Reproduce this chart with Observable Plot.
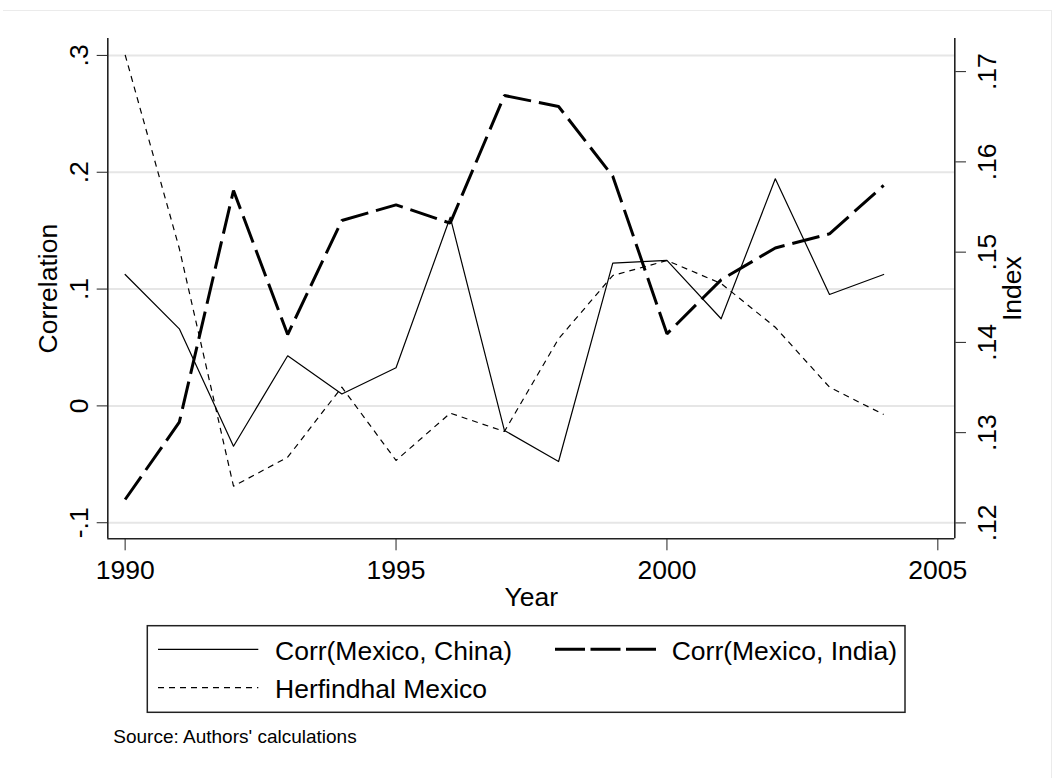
<!DOCTYPE html>
<html><head><meta charset="utf-8">
<script src="https://cdn.jsdelivr.net/npm/d3@7"></script>
<script src="https://cdn.jsdelivr.net/npm/@observablehq/plot@0.6"></script>
<style>
body{margin:0;background:#fff;font-family:"Liberation Sans",Arial,sans-serif;}
#wrap{position:relative;width:1061px;height:778px;overflow:hidden;background:#fff;}
#wrap svg{position:absolute;left:0;top:0;}
#border{position:absolute;left:3px;top:10px;width:1048px;height:800px;border-top:1px solid #ebebeb;border-right:1px solid #ebebeb;}
</style></head>
<body><div id="wrap"><div id="border"></div></div>
<script>
// ---- data ----
const years = [1990,1991,1992,1993,1994,1995,1996,1997,1998,1999,2000,2001,2002,2003,2004];
const corrChina = [0.1125,0.0660,-0.0345,0.0429,0.0102,0.0326,0.1615,-0.0210,-0.0476,0.1222,0.1245,0.0746,0.1944,0.0954,0.1125];
const corrIndia = [-0.0801,-0.0139,0.1844,0.0611,0.1587,0.1721,0.1564,0.2657,0.2563,0.1966,0.0617,0.1079,0.1352,0.1473,0.1887];
const herfMexico = [0.17186,0.15040,0.12407,0.12728,0.13504,0.12692,0.13216,0.13013,0.14040,0.14741,0.14907,0.14653,0.14168,0.13504,0.13201];
const seriesNames = ["Corr(Mexico, China)","Corr(Mexico, India)","Herfindhal Mexico"];
const xTicks = [1990,1995,2000,2005];
const leftTicks = [-0.1,0,0.1,0.2,0.3];
const leftTickLabels = ["-.1","0",".1",".2",".3"];
const rightTicks = [0.12,0.13,0.14,0.15,0.16,0.17];
const rightTickLabels = [".12",".13",".14",".15",".16",".17"];
const xTitle = "Year", yLeftTitle = "Correlation", yRightTitle = "Index";
const sourceNote = "Source: Authors' calculations";

// ---- tables ----
const china = years.map((y,i)=>({year:y, v:corrChina[i]}));
const india = years.map((y,i)=>({year:y, v:corrIndia[i]}));
const herf = years.map((y,i)=>({year:y, v:herfMexico[i]}));

const W = 1061, H = 620;
const FONT = "'Liberation Sans', Arial, sans-serif";
const FS = 26.5;
const xDomain = [1989.680, 2005.313];
const yLeftDomain = [-0.11375, 0.31448];
const yRightDomain = [0.11824, 0.17367];
const AX = "#222";
const common = {
  width: W, height: H,
  marginLeft: 107.3, marginRight: 106.7, marginTop: 38, marginBottom: H - 538.3,
  style: {fontFamily: FONT, fontSize: FS + "px", color: "#000", background: "transparent", overflow: "visible"}
};
const lMap = new Map(leftTicks.map((t,i)=>[t,leftTickLabels[i]]));
const rMap = new Map(rightTicks.map((t,i)=>[t,rightTickLabels[i]]));

const p1 = Plot.plot({
  ...common,
  x: {domain: xDomain, axis: null, label: null},
  y: {domain: yLeftDomain, axis: null, label: null},
  marks: [
    Plot.gridY(leftTicks, {stroke: "#e6e6e6", strokeOpacity: 1, strokeWidth: 2}),
    Plot.line(china, {x: "year", y: "v", stroke: "#000", strokeWidth: 1.2}),
    Plot.line(india, {x: "year", y: "v", stroke: "#000", strokeWidth: 3, strokeDasharray: "28,8", strokeLinecap: "butt", strokeLinejoin: "miter"}),
    Plot.ruleX([xDomain[0]], {stroke: AX, strokeWidth: 1.6}),
    Plot.ruleY([yLeftDomain[0]], {stroke: AX, strokeWidth: 1.6}),
    Plot.axisY(leftTicks, {anchor: "left", label: null, tickSize: 10.6, tickPadding: 9.7, tickRotate: -90, stroke: AX, fontSize: FS, fill: "#000", tickFormat: d => lMap.get(d)}),
    Plot.axisX(xTicks, {anchor: "bottom", label: null, tickSize: 12, tickPadding: 9.7, stroke: AX, fontSize: FS, fill: "#000", tickFormat: d => String(d)}),
    Plot.text([yLeftTitle], {frameAnchor: "left", rotate: -90, dx: -50.6, lineAnchor: "bottom", textAnchor: "middle", fontSize: FS, fill: "#000"}),
    Plot.text([xTitle], {frameAnchor: "bottom", dy: 66.7, lineAnchor: "bottom", textAnchor: "middle", fontSize: FS, fill: "#000"})
  ]
});

const p2 = Plot.plot({
  ...common,
  x: {domain: xDomain, axis: null, label: null},
  y: {domain: yRightDomain, axis: null, label: null},
  marks: [
    Plot.line(herf, {x: "year", y: "v", stroke: "#000", strokeWidth: 1.2, strokeDasharray: "6,5", strokeLinecap: "butt"}),
    Plot.ruleX([xDomain[1]], {stroke: AX, strokeWidth: 1.6}),
    Plot.axisY(rightTicks, {anchor: "right", label: null, tickSize: 10.7, tickPadding: 30, tickRotate: -90, stroke: AX, fontSize: FS, fill: "#000", tickFormat: d => rMap.get(d)}),
    Plot.text([yRightTitle], {frameAnchor: "right", rotate: -90, dx: 65.7, lineAnchor: "bottom", textAnchor: "middle", fontSize: FS, fill: "#000"})
  ]
});

const wrap = document.getElementById("wrap");
wrap.appendChild(p1);
wrap.appendChild(p2);

// ---- legend + note ----
const ns = "http://www.w3.org/2000/svg";
const lg = document.createElementNS(ns, "svg");
lg.setAttribute("width", W); lg.setAttribute("height", 778);
lg.style.fontFamily = FONT;
lg.innerHTML = `
  <rect x="147.3" y="625.7" width="757.7" height="86.6" fill="none" stroke="${AX}" stroke-width="1.5"/>
  <line x1="158" x2="258.3" y1="649.3" y2="649.3" stroke="#000" stroke-width="1.2"/>
  <text x="275" y="659.5" font-size="${FS}" fill="#000">${seriesNames[0]}</text>
  <line x1="555" x2="656.7" y1="649.3" y2="649.3" stroke="#000" stroke-width="3" stroke-dasharray="30,5.5"/>
  <text x="671.7" y="659.5" font-size="${FS}" fill="#000">${seriesNames[1]}</text>
  <line x1="158" x2="258.3" y1="687.7" y2="687.7" stroke="#000" stroke-width="1.2" stroke-dasharray="6,5"/>
  <text x="275" y="697.5" font-size="${FS}" fill="#000">${seriesNames[2]}</text>
  <text x="113.3" y="743.3" font-size="19" fill="#000">${sourceNote}</text>
`;
wrap.appendChild(lg);
</script>
</body></html>
